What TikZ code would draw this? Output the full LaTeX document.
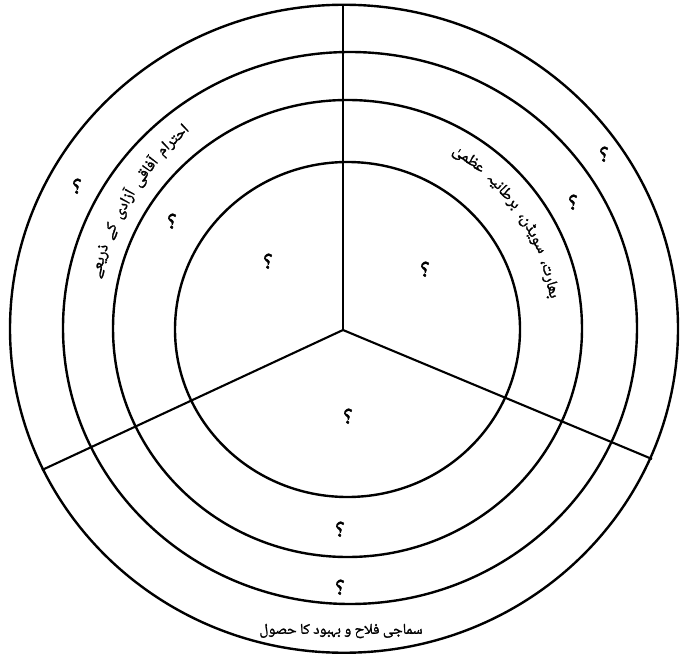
\documentclass[tikz,border=0pt]{standalone}
\usepackage{fontspec}
\IfFontExistsTF{Noto Naskh Arabic UI}
  {\newfontfamily\urdu[Script=Arabic, AutoFakeBold=1.6]{Noto Naskh Arabic UI}}
  {\newfontfamily\urdu[Script=Arabic, AutoFakeBold=1.6]{DejaVu Sans}}
\TeXXeTstate=1
\newcommand\lblfont{\urdu\bfseries\fontsize{16}{18}\selectfont}
\newcommand\btmfont{\urdu\bfseries\fontsize{15}{17}\selectfont}
\newdimen\angacc
% measure a word: #1 key, #2 estimated width, #3 text
\newcommand\mw[3]{%
  \setbox0=\hbox{\lblfont\beginR #3\endR}%
  \ifdim\wd0<2pt
    \expandafter\xdef\csname W#1\endcsname{#2}%
  \else
    \expandafter\xdef\csname W#1\endcsname{\the\wd0}%
  \fi}
\newcommand\arcstart[1]{\global\angacc=#1pt\relax}
% #1 radius, #2 gap (deg), #3 key/name, #4 text
\newcommand\arcword[4]{%
  \pgfmathsetmacro\halfang{\csname W#3\endcsname/#1*28.6479}%
  \global\advance\angacc by \halfang pt\relax
  \pgfmathsetmacro\midang{\angacc}%
  \node[lbl, rotate=\midang-90] (#3) at (\midang:#1) {\beginR #4\endR};
  \pgfmathsetmacro\halfang{\csname W#3\endcsname/#1*28.6479}%
  \global\advance\angacc by \halfang pt\relax
  \global\advance\angacc by #2pt\relax
}
\begin{document}
\mw{l1}{44pt}{احترام}
\mw{l2}{34pt}{آفاقی}
\mw{l3}{35pt}{آزادی}
\mw{l4}{16pt}{کے}
\mw{l5}{34pt}{ذریعے}
\mw{r1}{42pt}{بھارت،}
\mw{r2}{42pt}{سویڈن،}
\mw{r3}{44pt}{برطانیہ}
\mw{r4}{30pt}{عظمیٰ}
\begin{tikzpicture}[x=1pt,y=-1pt,
  ring/.style={line width=2.4pt, draw=black},
  spoke/.style={line width=2.1pt, draw=black},
  lbl/.style={font=\lblfont, inner sep=0pt},
  qm/.style={font=\urdu\bfseries\fontsize{24}{26}\selectfont, inner sep=0pt}]
\useasboundingbox[fill=white] (0,0) rectangle (680,663);
% rings
\draw[ring] (344,328.75) ellipse [x radius=334pt, y radius=324pt];
\draw[ring] (350,328) ellipse [x radius=287pt, y radius=276pt];
\draw[ring] (347.5,328.5) ellipse [x radius=234.5pt, y radius=228.5pt];
\draw[ring] (347.5,329.5) ellipse [x radius=172.5pt, y radius=167.5pt];
% spokes
\coordinate (c) at (343,330);
\coordinate (top) at (343,4.5);
\coordinate (lft) at (42,470);
\coordinate (rgt) at (652,459);
\draw[spoke] (c) -- (top);
\draw[spoke] (c) -- (lft);
\draw[spoke] (c) -- (rgt);
% curved labels
\begin{scope}[shift={(347.5,329)}, y=1pt]
  \arcstart{128.5}
  \arcword{256}{1.6}{l1}{احترام}
  \arcword{256}{1.6}{l2}{آفاقی}
  \arcword{256}{1.6}{l3}{آزادی}
  \arcword{256}{1.6}{l4}{کے}
  \arcword{256}{1.6}{l5}{ذریعے}
  \arcstart{8.5}
  \arcword{208}{2.2}{r1}{بھارت،}
  \arcword{208}{2.2}{r2}{سویڈن،}
  \arcword{208}{2.2}{r3}{برطانیہ}
  \arcword{208}{2.2}{r4}{عظمیٰ}
\end{scope}
\node[lbl, font=\btmfont] (bt) at (341,631) {\beginR سماجی فلاح و بہبود کا حصول\endR};
% question marks
\node[qm] (q1) at (604,155) {؟};
\node[qm] (q2) at (573,203) {؟};
\node[qm] (q3) at (77,187) {؟};
\node[qm] (q4) at (172,222) {؟};
\node[qm] (q5) at (268,262) {؟};
\node[qm] (q6) at (425,270) {؟};
\node[qm] (q7) at (348,417) {؟};
\node[qm] (q8) at (340,530) {؟};
\node[qm] (q9) at (340,588) {؟};
\end{tikzpicture}
\end{document}
